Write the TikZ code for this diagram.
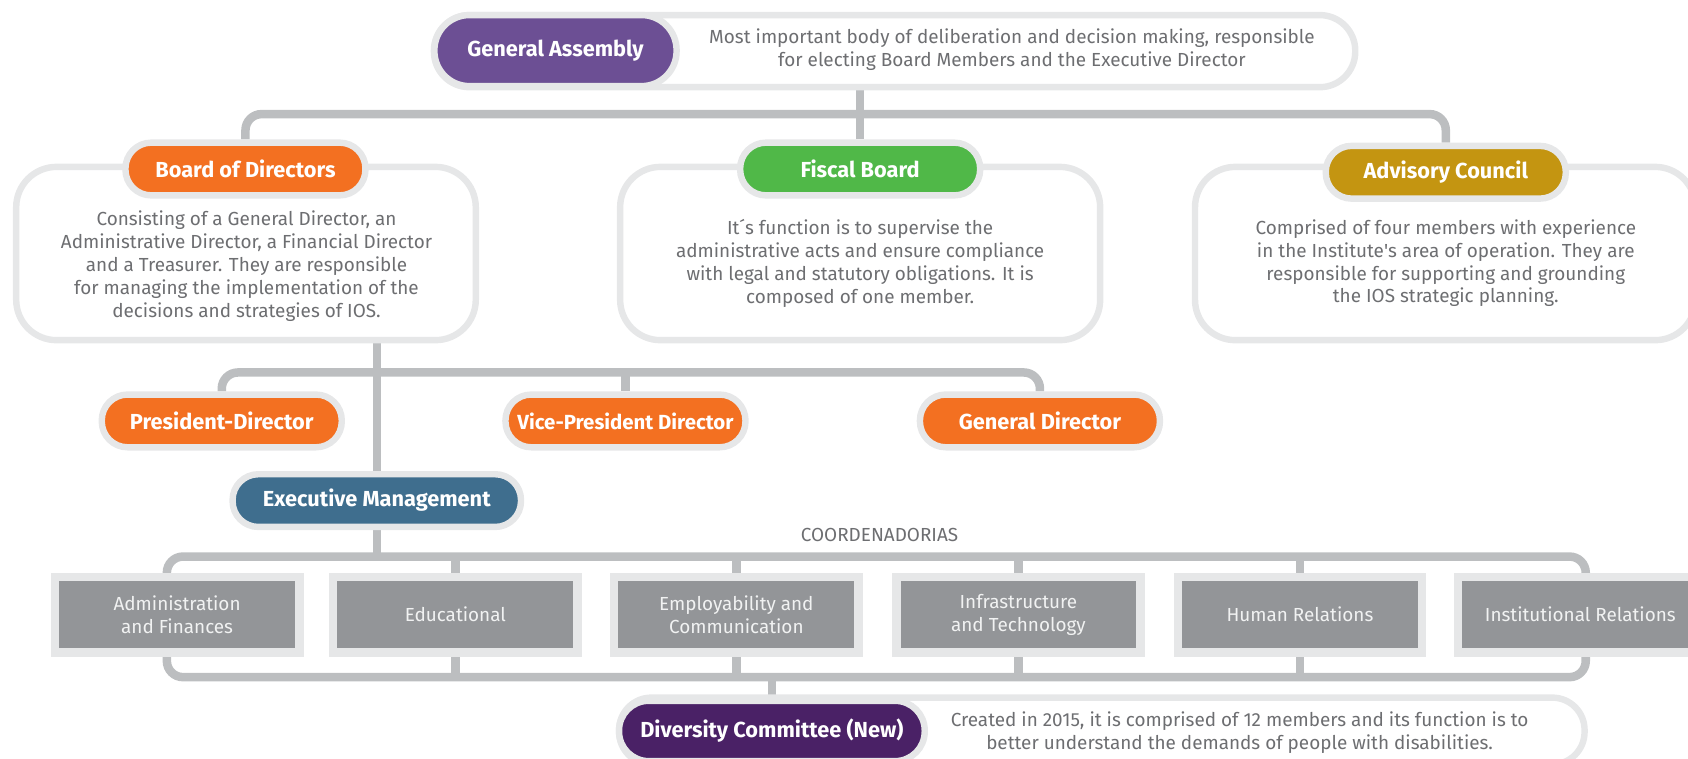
\documentclass[tikz,border=0pt]{standalone}
\usepackage{fontspec}
\setmainfont{Fira Sans}
\usetikzlibrary{arrows.meta, positioning, backgrounds}

\definecolor{lightline}{HTML}{E6E7E8}
\definecolor{linkgray}{HTML}{BCBEC0}
\definecolor{textgray}{HTML}{6D6E71}
\definecolor{gapurple}{HTML}{6C4F94}
\definecolor{boardorange}{HTML}{F37021}
\definecolor{fiscalgreen}{HTML}{50B848}
\definecolor{advisorygold}{HTML}{C49511}
\definecolor{execblue}{HTML}{3F6E8E}
\definecolor{boxgray}{HTML}{939598}
\definecolor{boxtext}{HTML}{F1F2F2}
\definecolor{divpurple}{HTML}{4A2166}

\begin{document}
\begin{tikzpicture}[x=0.02cm, y=-0.02cm,
    link/.style={draw=linkgray, line width=4.5pt, rounded corners=0.3cm},
    pill/.style={draw=lightline, line width=3.4pt, rounded corners=0.48cm,
      minimum width=4.46cm, minimum height=0.98cm, inner sep=0pt,
      text=white, font=\bfseries\fontsize{11.5}{13}\selectfont},
    infobox/.style={draw=lightline, line width=3.4pt, fill=white,
      rounded corners=0.75cm, minimum height=3.22cm, inner sep=0pt},
    infotext/.style={text=textgray, align=center, font=\fontsize{10}{12.1}\selectfont},
    coordbox/.style={draw=lightline, fill=boxgray, line width=4.5pt,
      minimum width=4.54cm, minimum height=1.4cm, inner sep=0pt,
      text=boxtext, align=center, font=\fontsize{10}{12}\selectfont}]

    \useasboundingbox (0,0) rectangle (1568,705);
    \clip (0,0) rectangle (1568,705);

    % Draw the description boxes
    \node[infobox, minimum width=17.12cm, minimum height=1.34cm, rounded corners=0.66cm] (gadesc) at (831,47.5) {};
    \node[infobox, minimum width=8.54cm] (boardbox) at (228.5,235.5) {};
    \node[infobox, minimum width=8.92cm] (fiscalbox) at (799,235.5) {};
    \node[infobox, minimum width=9.3cm] (advisorybox) at (1342.5,235.5) {};
    \node[infobox, minimum width=17.94cm, minimum height=1.24cm, rounded corners=0.6cm] (divdesc) at (1023.5,679) {};

    % Texts of the boxes
    \node[infotext] (gatext) at (940,46.5) {Most important body of deliberation and decision making, responsible\\for electing Board Members and the Executive Director};
    \node[infotext] (boardtext) at (229,247) {Consisting of a General Director, an\\Administrative Director, a Financial Director\\and a Treasurer. They are responsible\\for managing the implementation of the\\decisions and strategies of IOS.};
    \node[infotext] (fiscaltext) at (799,244.5) {It´s function is to supervise the\\administrative acts and ensure compliance\\with legal and statutory obligations. It is\\composed of one member.};
    \node[infotext] (advisorytext) at (1343,244.5) {Comprised of four members with experience\\in the Institute\textquotesingle s area of operation. They are\\responsible for supporting and grounding\\the IOS strategic planning.};
    \node[infotext] (divtext) at (1151.5,680.5) {Created in 2015, it is comprised of 12 members and its function is to\\better understand the demands of people with disabilities.};

    % Title pills
    \node[pill, fill=gapurple, minimum width=4.5cm, minimum height=1.32cm, rounded corners=0.65cm] (assembly) at (516,47) {General Assembly};
    \node[pill, fill=boardorange] (board) at (228,157) {Board of Directors};
    \node[pill, fill=fiscalgreen] (fiscal) at (799,157) {Fiscal Board};
    \node[pill, fill=advisorygold] (advisory) at (1343,160) {Advisory Council};
    \node[pill, fill=boardorange] (president) at (206,391) {President-Director};
    \node[pill, fill=boardorange, font=\bfseries\fontsize{10.8}{13}\selectfont] (vice) at (581,391) {Vice-President Director};
    \node[pill, fill=boardorange] (gendir) at (966,391) {General Director};
    \node[pill, fill=execblue, minimum width=5.36cm] (exec) at (350,465) {Executive Management};
    \node[pill, fill=divpurple, minimum width=5.68cm, minimum height=1.12cm, rounded corners=0.55cm] (diversity) at (717,679) {Diversity Committee (New)};

    % Coordenadorias
    \node[text=textgray, font=\fontsize{10}{12}\selectfont] (coordlabel) at (817,497) {COORDENADORIAS};
    \node[coordbox] (admin) at (164.5,571) {Administration\\and Finances};
    \node[coordbox] (edu) at (423,571) {Educational};
    \node[coordbox] (emp) at (684,571) {Employability and\\Communication};
    \node[coordbox] (infra) at (946,571) {Infrastructure\\and Technology};
    \node[coordbox] (hr) at (1207.5,571) {Human Relations};
    \node[coordbox] (inst) at (1468,571) {Institutional Relations};

    \coordinate (topbar) at (799,106);
    \coordinate (dirbar) at (583,346);
    \coordinate (coordtop) at (817,517);
    \coordinate (coordbot) at (817,629);

    % Draw connectors behind everything
    \begin{scope}[on background layer]
      \draw[link] (fiscal.north) -- (fiscal.north |- gadesc.south);
      \draw[link] (board.north) |- (topbar) -| (advisory.north);
      \draw[link] (exec.north) -- (exec.north |- boardbox.south);
      \draw[link] (president.north) |- (dirbar) -| (gendir.north);
      \draw[link] (vice.north) -- (vice.north |- dirbar);
      \draw[link] (exec.south) -- (exec.south |- coordtop);
      \draw[link] ([xshift=-0.19cm]admin.north) |- (coordtop) -| ([xshift=0.1cm]inst.north);
      \draw[link] ([xshift=-0.19cm]admin.south) |- (coordbot) -| ([xshift=0.1cm]inst.south);
      \foreach \c in {edu, emp, infra, hr} {
        \draw[link] (\c.north) -- (\c.north |- coordtop);
        \draw[link] (\c.south) -- (\c.south |- coordbot);
      }
      \draw[link] (diversity.north) -- (diversity.north |- coordbot);
    \end{scope}
\end{tikzpicture}
\end{document}
